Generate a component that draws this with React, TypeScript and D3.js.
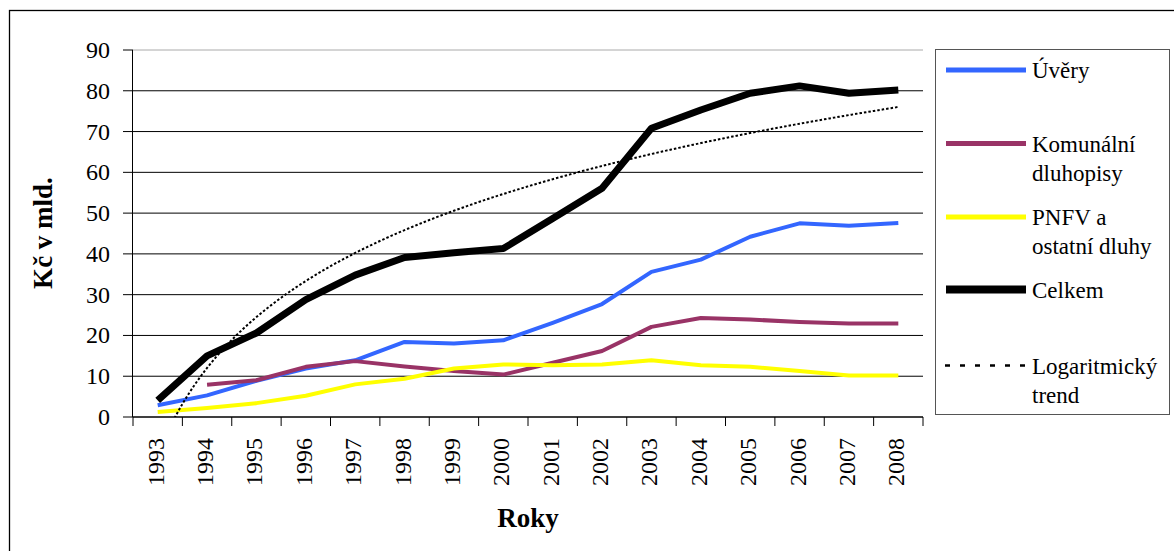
import { useEffect, useRef } from "react";
import * as d3 from "d3";

const years = [
  "1993", "1994", "1995", "1996", "1997", "1998", "1999", "2000",
  "2001", "2002", "2003", "2004", "2005", "2006", "2007", "2008",
];
const uvery = [2.9, 5.3, 8.9, 11.9, 13.9, 18.4, 18.0, 18.8, 23.1, 27.7, 35.6, 38.6, 44.2, 47.5, 46.9, 47.6];
const komunalni = [null, 7.9, 9.0, 12.3, 13.7, 12.4, 11.3, 10.4, 13.3, 16.2, 22.1, 24.3, 23.9, 23.3, 22.9, 22.9];
const pnfv = [1.2, 2.2, 3.4, 5.2, 8.0, 9.4, 11.9, 12.9, 12.7, 12.9, 13.9, 12.7, 12.3, 11.3, 10.2, 10.2];
const celkem = [4.1, 15.0, 20.6, 28.8, 34.8, 39.1, 40.3, 41.3, 48.7, 56.1, 70.8, 75.3, 79.4, 81.2, 79.4, 80.2];
const yTicks = [0, 10, 20, 30, 40, 50, 60, 70, 80, 90];

const FONT = "Liberation Serif";
const TICK_SIZE = 24;
const DIGIT_W = TICK_SIZE / 2;

const series = [
  { name: ["Úvěry"], values: uvery, color: "#3366ff", width: 4, legendWidth: 5, ly: 70 },
  { name: ["Komunální", "dluhopisy"], values: komunalni, color: "#993366", width: 4, legendWidth: 5, ly: 143.5 },
  { name: ["PNFV a", "ostatní dluhy"], values: pnfv, color: "#ffff00", width: 4, legendWidth: 5, ly: 217 },
  { name: ["Celkem"], values: celkem, color: "#000000", width: 7, legendWidth: 8, ly: 289.5 },
];

// logarithmic trend: least squares of celkem on ln(index)
function logFit(vals: number[]) {
  const xs = vals.map((_, i) => Math.log(i + 1));
  const mx = d3.mean(xs)!;
  const my = d3.mean(vals)!;
  const sxy = d3.sum(xs, (x, i) => (x - mx) * (vals[i] - my));
  const sxx = d3.sum(xs, (x) => (x - mx) * (x - mx));
  const a = sxy / sxx;
  return { a, b: my - a * mx };
}

function App() {
  const plot = { left: 133, right: 923, top: 50, bottom: 417 };
  const trendRef = useRef<SVGPathElement>(null);

  const x = d3.scaleBand().domain(years).range([plot.left, plot.right]);
  const bw = x.bandwidth();
  const cx = (yr: string) => (x(yr) as number) + bw / 2;
  const y = d3.scaleLinear().domain([0, 90]).range([plot.bottom, plot.top]);

  const line = d3
    .line<number | null>()
    .defined((d) => d !== null)
    .x((_, i) => cx(years[i]))
    .y((d) => y(d as number));

  useEffect(() => {
    const { a, b } = logFit(celkem);
    const xi = d3.scaleLinear().domain([1, years.length]).range([cx(years[0]), cx(years[years.length - 1])]);
    const ts = d3.range(1, years.length + 0.001, 0.05);
    const trendLine = d3
      .line<number>()
      .x((t) => xi(t))
      .y((t) => y(a * Math.log(t) + b));
    d3.select(trendRef.current).attr("d", trendLine(ts));
  }, []);

  return (
    <svg width={1174} height={551} fontFamily={FONT} style={{ position: "absolute", left: 0, top: 0 }}>
      <rect x={9.5} y={10.5} width={1180} height={560} fill="none" stroke="#000" strokeWidth={1.3} />
      <defs>
        <clipPath id="plotClip">
          <rect x={plot.left} y={plot.top - 5} width={plot.right - plot.left + 5} height={plot.bottom - plot.top + 5} />
        </clipPath>
      </defs>

      {/* gridlines */}
      {yTicks.map((t) => (
        <line key={t} x1={plot.left} x2={plot.right} y1={y(t)} y2={y(t)} stroke={t === 90 ? "#aaa" : "#000"} strokeWidth={1} />
      ))}

      {/* y axis */}
      <line x1={132.5} x2={132.5} y1={plot.top} y2={plot.bottom} stroke="#000" />
      {yTicks.map((t) => (
        <line key={t} x1={123} x2={133} y1={y(t)} y2={y(t)} stroke="#000" />
      ))}
      {yTicks.map((t) => (
        <text key={t} x={110 - String(t).length * DIGIT_W} y={y(t) + 8} fontSize={TICK_SIZE} fontFamily={FONT}>
          {t}
        </text>
      ))}

      {/* x axis */}
      <line x1={plot.left} x2={plot.right} y1={plot.bottom} y2={plot.bottom} stroke="#000" />
      {years.concat(["end"]).map((yr, i) => {
        const px = plot.left + i * bw;
        return <line key={yr} x1={px} x2={px} y1={plot.bottom} y2={plot.bottom + 9} stroke="#000" />;
      })}
      {years.map((yr) => (
        <text
          key={yr}
          transform={`translate(${cx(yr) + 6},${438 + yr.length * DIGIT_W}) rotate(-90)`}
          fontSize={TICK_SIZE}
          fontFamily={FONT}
        >
          {yr}
        </text>
      ))}

      {/* axis titles */}
      <text x={528} y={527} textAnchor="middle" fontSize={27} fontWeight="bold" fontFamily={FONT}>
        Roky
      </text>
      <text transform="translate(52,233) rotate(-90)" textAnchor="middle" fontSize={27} fontWeight="bold" fontFamily={FONT}>
        Kč v mld.
      </text>

      {/* series */}
      <g clipPath="url(#plotClip)">
        {series.map((s) => (
          <path
            key={s.name[0]}
            d={line(s.values) as string}
            fill="none"
            stroke={s.color}
            strokeWidth={s.width}
            strokeLinejoin="round"
          />
        ))}
        <path ref={trendRef} fill="none" stroke="#000" strokeWidth={2} strokeDasharray="2.5,2" />
      </g>

      {/* legend */}
      <rect x={935.5} y={49.5} width={234} height={365} fill="none" stroke="#555" strokeWidth={1} />
      {series.map((s) => (
        <line key={s.name[0]} x1={946} x2={1026} y1={s.ly} y2={s.ly} stroke={s.color} strokeWidth={s.legendWidth} />
      ))}
      {series.map((s) =>
        s.name.map((n, j) => (
          <text key={n} x={1032} y={s.ly + 8 + j * 29} fontSize={23} fontFamily={FONT}>
            {n}
          </text>
        ))
      )}
      <line x1={945} x2={1028} y1={365.5} y2={365.5} stroke="#000" strokeWidth={2.5} strokeDasharray="5,10" />
      <text x={1032} y={373.5} fontSize={23} fontFamily={FONT}>
        Logaritmický
      </text>
      <text x={1032} y={402.5} fontSize={23} fontFamily={FONT}>
        trend
      </text>
    </svg>
  );
}

export default App;
